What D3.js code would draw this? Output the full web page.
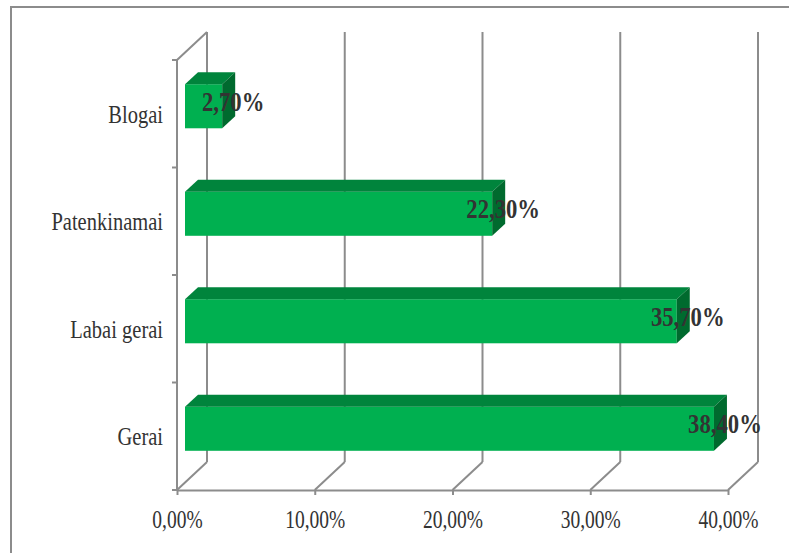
<!DOCTYPE html>
<html>
<head>
<meta charset="utf-8">
<script src="https://cdn.jsdelivr.net/npm/d3@7"></script>
<style>
  body { margin: 0; background: #fff; }
  svg { display: block; }
  text { font-family: "Liberation Serif", "Times New Roman", serif; fill: #333; }
</style>
</head>
<body>
<div id="chart"></div>
<script>
// data
const categories = ["Gerai", "Labai gerai", "Patenkinamai", "Blogai"];
const values = [38.4, 35.7, 22.3, 2.7];
const tickValues = [0, 10, 20, 30, 40];

const width = 789, height = 553;
const depth = { dx: 30, dy: -28 };       // floor / wall depth
const barOff = { dx: 8, dy: -7.5 };      // bar front face offset
const barDepth = { dx: 13, dy: -12 };    // bar thickness in depth
const squeeze = 0.78;                    // horizontally condensed text

const fmt = v => v.toFixed(2).replace(".", ",") + "%";

let svg = d3.select("#chart").append("svg")
  .attr("width", width)
  .attr("height", height);

// outer border (clipped at right/bottom)
svg.append("rect")
  .attr("x", 11).attr("y", 7)
  .attr("width", 820).attr("height", 600)
  .attr("fill", "none")
  .attr("stroke", "#8c8c8c")
  .attr("stroke-width", 2);

let x = d3.scaleLinear().domain([0, 40]).range([177, 728]);
let y = d3.scaleBand().domain(categories.slice().reverse()).range([60, 490]);

const grid = svg.append("g")
  .attr("stroke", "#8c8c8c")
  .attr("stroke-width", 2)
  .attr("fill", "none");

// back wall gridlines
grid.selectAll(".vgrid")
  .data(tickValues)
  .enter()
  .append("line")
  .attr("x1", d => x(d) + depth.dx)
  .attr("x2", d => x(d) + depth.dx)
  .attr("y1", y.range()[0] + depth.dy)
  .attr("y2", y.range()[1] + depth.dy);

// floor diagonals
grid.selectAll(".fgrid")
  .data(tickValues)
  .enter()
  .append("line")
  .attr("x1", d => x(d))
  .attr("x2", d => x(d) + depth.dx)
  .attr("y1", y.range()[1])
  .attr("y2", y.range()[1] + depth.dy);

// left wall
grid.append("line")
  .attr("x1", x(0)).attr("x2", x(0))
  .attr("y1", y.range()[0]).attr("y2", y.range()[1]);
grid.append("line")
  .attr("x1", x(0)).attr("x2", x(0) + depth.dx)
  .attr("y1", y.range()[0]).attr("y2", y.range()[0] + depth.dy);

// category boundary ticks
let bounds = categories.map(c => y(c)).concat([y.range()[1]]);
grid.selectAll(".ytick")
  .data(bounds)
  .enter()
  .append("line")
  .attr("x1", x(0) - 5).attr("x2", x(0))
  .attr("y1", d => d).attr("y2", d => d);

// front axis
let xAxis = svg.append("g")
  .attr("transform", "translate(0," + y.range()[1] + ")")
  .call(d3.axisBottom(x).tickValues(tickValues).tickSize(5).tickSizeOuter(0).tickFormat(fmt));
xAxis.select(".domain").attr("stroke", "#8c8c8c").attr("stroke-width", 2);
xAxis.selectAll(".tick line").attr("stroke", "#8c8c8c").attr("stroke-width", 2);
xAxis.selectAll(".tick text")
  .attr("y", 29)
  .attr("dy", "0.35em")
  .attr("transform", `scale(${squeeze},1)`)
  .style("font-size", "25px")
  .style("fill", "#333");

// category labels
svg.selectAll(".cat")
  .data(categories)
  .enter()
  .append("text")
  .attr("transform", d => `translate(163,${y(d) + y.bandwidth() / 2}) scale(0.82,1)`)
  .attr("text-anchor", "end")
  .attr("dy", "0.35em")
  .style("font-size", "25px")
  .text(d => d);

// bars (3D)
const barH = y.bandwidth() * 0.41;
const bars = svg.append("g")
  .selectAll("g")
  .data(categories.map((c, i) => ({ c: c, v: values[i] })))
  .enter()
  .append("g");

function fx0() { return x(0) + barOff.dx; }
function fx1(d) { return x(d.v) + barOff.dx; }
function fy0(d) { return y(d.c) + y.bandwidth() / 2 - barH / 2 + barOff.dy; }

bars.append("rect")
  .attr("x", fx0())
  .attr("y", d => fy0(d))
  .attr("width", d => fx1(d) - fx0())
  .attr("height", barH)
  .attr("fill", "#00b050");

bars.append("polygon")
  .attr("points", d => {
    let t = fy0(d);
    return [[fx0(), t], [fx1(d), t], [fx1(d) + barDepth.dx, t + barDepth.dy], [fx0() + barDepth.dx, t + barDepth.dy]].join(" ");
  })
  .attr("fill", "#00843c");

bars.append("polygon")
  .attr("points", d => {
    let t = fy0(d), b = fy0(d) + barH, r = fx1(d);
    return [[r, t], [r + barDepth.dx, t + barDepth.dy], [r + barDepth.dx, b + barDepth.dy], [r, b]].join(" ");
  })
  .attr("fill", "#006a2e");

// value labels
bars.append("text")
  .attr("transform", d => `translate(${fx1(d) + 11},${fy0(d) + barH / 2 - 5}) scale(0.84,1)`)
  .attr("text-anchor", "middle")
  .attr("dy", "0.35em")
  .style("font-size", "27px")
  .style("font-weight", "bold")
  .text(d => d.v.toFixed(2).replace(".", ",") + "%");
</script>
</body>
</html>
